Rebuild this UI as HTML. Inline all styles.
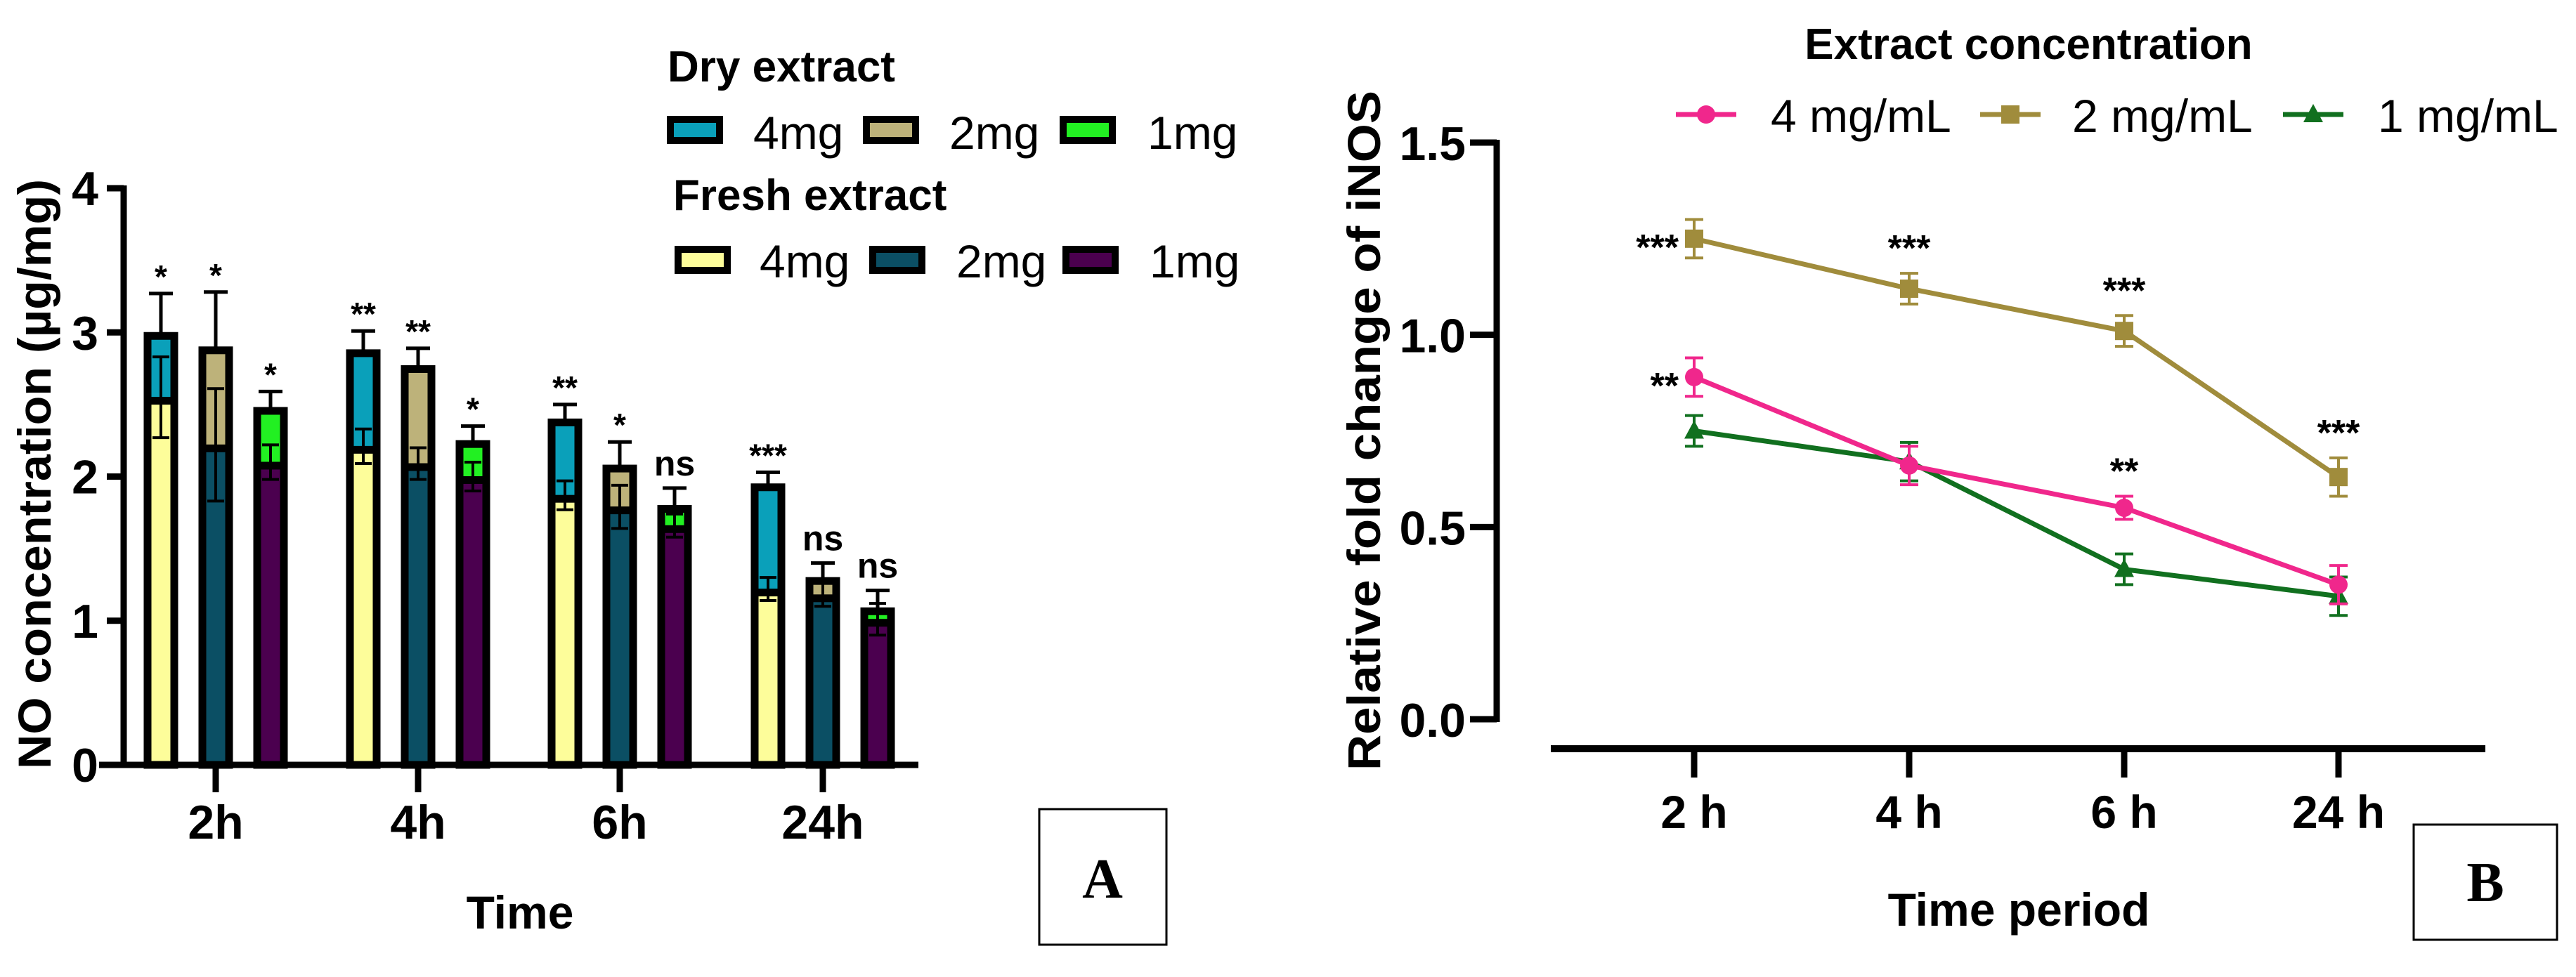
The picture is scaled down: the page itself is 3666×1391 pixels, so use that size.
<!DOCTYPE html>
<html><head><meta charset="utf-8"><style>
html,body{margin:0;padding:0;background:#fff;}
svg{display:block;font-family:"Liberation Sans",Arial,sans-serif;}
</style></head><body>
<svg id="fig" width="3666" height="1391" viewBox="0 0 3666 1391" xmlns="http://www.w3.org/2000/svg">
<g id="panelA"></g>
<g id="panelB"></g>
</svg>
<script>
// ---------- Panel A data ----------
const timesA = ["2h","4h","6h","24h"];
const doses = ["4mg","2mg","1mg"];
const dryVals = [[3.0,2.9,2.48],[2.88,2.77,2.25],[2.40,2.08,1.80],[1.95,1.30,1.09]];
const dryErr = [[0.27,0.38,0.11],[0.13,0.12,0.10],[0.10,0.16,0.12],[0.08,0.10,0.12]];
const freshVals = [[2.55,2.22,2.10],[2.21,2.09,2.00],[1.87,1.79,1.66],[1.22,1.18,1.01]];
const freshErr = [[0.28,0.39,0.12],[0.12,0.11,0.10],[0.10,0.15,0.08],[0.08,0.08,0.11]];
const sigA = [["*","*","*"],["**","**","*"],["**","*","ns"],["***","ns","ns"]];
const yTicksA = [0,1,2,3,4];
// ---------- Panel B data ----------
const timesB = ["2 h","4 h","6 h","24 h"];
const seriesNames = ["4 mg/mL","2 mg/mL","1 mg/mL"];
const s4 = [0.89,0.66,0.55,0.35];
const s4err = [0.05,0.05,0.03,0.05];
const s2 = [1.25,1.12,1.01,0.63];
const s2err = [0.05,0.04,0.04,0.05];
const s1 = [0.75,0.67,0.39,0.32];
const s1err = [0.04,0.05,0.04,0.05];
const sig2 = ["***","***","***","***"];
const sig4 = ["**","","**",""];
const yTicksB = [0.0,0.5,1.0,1.5];

const NS="http://www.w3.org/2000/svg";
function mk(parent,tag,attrs,text){const e=document.createElementNS(NS,tag);for(const k in attrs)e.setAttribute(k,attrs[k]);if(text!==undefined)e.textContent=text;parent.appendChild(e);return e;}

// ===== Panel A =====
const A=document.getElementById('panelA');
const yA=v=>1089-v*(1089-268)/4;
const groupX=[307,595,882,1171];
const offs=[-78,0,78];
const bw=48;
const dryCol=["#0aa0ba","#bdb27a","#22f022"];
const freshCol=["#fdfd9a","#0b4f64","#4b004f"];
let el=mk(A,'line',{x1:176,y1:264,x2:176,y2:1093,stroke:'#000','stroke-width':9});


el=mk(A,'line',{x1:141,y1:1089,x2:1307,y2:1089,stroke:'#000','stroke-width':9});


yTicksA.forEach(t=>{
  const tk=mk(A,'line',{x1:152,y1:yA(t),x2:176,y2:yA(t),stroke:'#000','stroke-width':9});
  
  
  const tl=mk(A,'text',{x:140,y:yA(t)+24,'text-anchor':'end','font-size':68,'font-weight':'bold'},String(t));
  
  
});
timesA.forEach((t,i)=>{
  const tk=mk(A,'line',{x1:groupX[i],y1:1089,x2:groupX[i],y2:1128,stroke:'#000','stroke-width':9});
  
  
  const tl=mk(A,'text',{x:groupX[i],y:1194,'text-anchor':'middle','font-size':68,'font-weight':'bold'},t);
  
  
  doses.forEach((d,j)=>{
    const cx=groupX[i]+offs[j];
    const dv=dryVals[i][j], de=dryErr[i][j];
    const eb=mk(A,'path',{d:`M${cx} ${yA(dv)} V${yA(dv+de)} M${cx-17} ${yA(dv+de)} H${cx+17}`,stroke:'#000','stroke-width':5,fill:'none'});
    
    
    const r=mk(A,'rect',{x:cx-bw/2+5,y:yA(dv)+5,width:bw-10,height:yA(0)-yA(dv)-5,fill:dryCol[j],stroke:'#000','stroke-width':11});
    
    
    const fv=freshVals[i][j], fe=freshErr[i][j];
    const r2=mk(A,'rect',{x:cx-bw/2+5,y:yA(fv)+5,width:bw-10,height:yA(0)-yA(fv)-5,fill:freshCol[j],stroke:'#000','stroke-width':11});
    
    
    const eb2=mk(A,'path',{d:`M${cx} ${yA(fv+fe)} V${yA(fv-fe)} M${cx-12} ${yA(fv+fe)} H${cx+12} M${cx-12} ${yA(fv-fe)} H${cx+12}`,stroke:'#000','stroke-width':4,fill:'none'});
    
    
    const s=sigA[i][j];
    const st=mk(A,'text',{x:cx,y:yA(dv+de)-(s==='ns'?18:8),'text-anchor':'middle','font-size':s==='ns'?50:46,'font-weight':'bold'},s);
    
    
  });
});
el=mk(A,'text',{x:0,y:0,transform:'translate(72,675) rotate(-90)','text-anchor':'middle','font-size':66,'font-weight':'bold',textLength:840,lengthAdjust:'spacingAndGlyphs'},'NO concentration (µg/mg)');


el=mk(A,'text',{x:740,y:1322,'text-anchor':'middle','font-size':66,'font-weight':'bold'},'Time');


el=mk(A,'text',{x:950,y:116,'font-size':62,'font-weight':'bold'},'Dry extract');


el=mk(A,'text',{x:958,y:299,'font-size':62,'font-weight':'bold'},'Fresh extract');


const lgX1=[949,1228,1508], lgT1=[1072,1351,1633];
const lgX2=[960,1237,1512], lgT2=[1081,1361,1636];
doses.forEach((d,j)=>{
  let sw=mk(A,'rect',{x:lgX1[j]+5,y:170,width:70,height:30,fill:dryCol[j],stroke:'#000','stroke-width':10});
  
  
  let lt=mk(A,'text',{x:lgT1[j],y:212,'font-size':66},d);
  
  
  sw=mk(A,'rect',{x:lgX2[j]+5,y:355,width:70,height:30,fill:freshCol[j],stroke:'#000','stroke-width':10});
  
  
  lt=mk(A,'text',{x:lgT2[j],y:395,'font-size':66},d);
  
  
});
el=mk(A,'rect',{x:1479,y:1152,width:181,height:193,fill:'none',stroke:'#000','stroke-width':3});


el=mk(A,'text',{x:1569,y:1278,'text-anchor':'middle','font-size':80,'font-weight':'bold','font-family':'Liberation Serif, serif'},'A');



// ===== Panel B =====
const B=document.getElementById('panelB');
const yB=v=>1024-v*(1024-203)/1.5;
const xB=[2411,2717,3023,3328];
el=mk(B,'line',{x1:2130,y1:199,x2:2130,y2:1028,stroke:'#000','stroke-width':9});


el=mk(B,'line',{x1:2207,y1:1066,x2:3537,y2:1066,stroke:'#000','stroke-width':10});


yTicksB.forEach(t=>{
  const tk=mk(B,'line',{x1:2092,y1:yB(t),x2:2130,y2:yB(t),stroke:'#000','stroke-width':9});
  
  
  const tl=mk(B,'text',{x:2086,y:yB(t)+25,'text-anchor':'end','font-size':68,'font-weight':'bold'},t.toFixed(1));
  
  
});
timesB.forEach((t,i)=>{
  const tk=mk(B,'line',{x1:xB[i],y1:1066,x2:xB[i],y2:1107,stroke:'#000','stroke-width':9});
  
  
  const tl=mk(B,'text',{x:xB[i],y:1179,'text-anchor':'middle','font-size':66,'font-weight':'bold'},t);
  
  
});
const series=[
  {vals:s2,err:s2err,col:'#a08c3c',mark:'square',name:'2mg'},
  {vals:s1,err:s1err,col:'#11701f',mark:'triangle',name:'1mg'},
  {vals:s4,err:s4err,col:'#f0278c',mark:'circle',name:'4mg'}
];
function marker(g,type,x,y,col){
  let m;
  if(type==='circle') m=mk(g,'circle',{cx:x,cy:y,r:13,fill:col});
  else if(type==='square') m=mk(g,'rect',{x:x-13,y:y-13,width:26,height:26,fill:col});
  else m=mk(g,'path',{d:`M${x} ${y-15} L${x+14} ${y+11} L${x-14} ${y+11}Z`,fill:col});
  return m;
}
series.forEach(s=>{
  const pts=s.vals.map((v,i)=>xB[i]+','+yB(v)).join(' ');
  const pl=mk(B,'polyline',{points:pts,fill:'none',stroke:s.col,'stroke-width':7});
  
  
  s.vals.forEach((v,i)=>{
    const x=xB[i],e=s.err[i];
    const eb=mk(B,'path',{d:`M${x} ${yB(v+e)} V${yB(v-e)} M${x-13} ${yB(v+e)} H${x+13} M${x-13} ${yB(v-e)} H${x+13}`,stroke:s.col,'stroke-width':4,fill:'none'});
    
    
    const m=marker(B,s.mark,x,yB(v),s.col);
    
    
  });
});
sig2.forEach((s,i)=>{
  if(!s)return;
  const left=i===0;
  const t=mk(B,'text',{x:left?xB[i]-22:xB[i],y:left?yB(s2[i])+30:yB(s2[i]+s2err[i])-18,'text-anchor':left?'end':'middle','font-size':52,'font-weight':'bold'},s);
  
  
});
sig4.forEach((s,i)=>{
  if(!s)return;
  const left=i===0;
  const t=mk(B,'text',{x:left?xB[i]-22:xB[i],y:left?yB(s4[i])+30:yB(s4[i]+s4err[i])-18,'text-anchor':left?'end':'middle','font-size':52,'font-weight':'bold'},s);
  
  
});
el=mk(B,'text',{x:0,y:0,transform:'translate(1964,613) rotate(-90)','text-anchor':'middle','font-size':66,'font-weight':'bold',textLength:968,lengthAdjust:'spacingAndGlyphs'},'Relative fold change of iNOS');


el=mk(B,'text',{x:2873,y:1318,'text-anchor':'middle','font-size':66,'font-weight':'bold'},'Time period');


el=mk(B,'text',{x:2887,y:84,'text-anchor':'middle','font-size':62,'font-weight':'bold'},'Extract concentration');


const legB=[{x:2385,t:2520,col:'#f0278c',mark:'circle'},{x:2818,t:2949,col:'#a08c3c',mark:'square'},{x:3249,t:3384,col:'#11701f',mark:'triangle'}];
legB.forEach((l,j)=>{
  const ln=mk(B,'line',{x1:l.x,y1:163,x2:l.x+86,y2:163,stroke:l.col,'stroke-width':7});
  
  
  const m=marker(B,l.mark,l.x+43,163,l.col);
  
  
  const t=mk(B,'text',{x:l.t,y:188,'font-size':66},seriesNames[j]);
  
  
});
el=mk(B,'rect',{x:3435,y:1174,width:204,height:164,fill:'none',stroke:'#000','stroke-width':3});


el=mk(B,'text',{x:3537,y:1283,'text-anchor':'middle','font-size':80,'font-weight':'bold','font-family':'Liberation Serif, serif'},'B');


</script>
</body></html>
